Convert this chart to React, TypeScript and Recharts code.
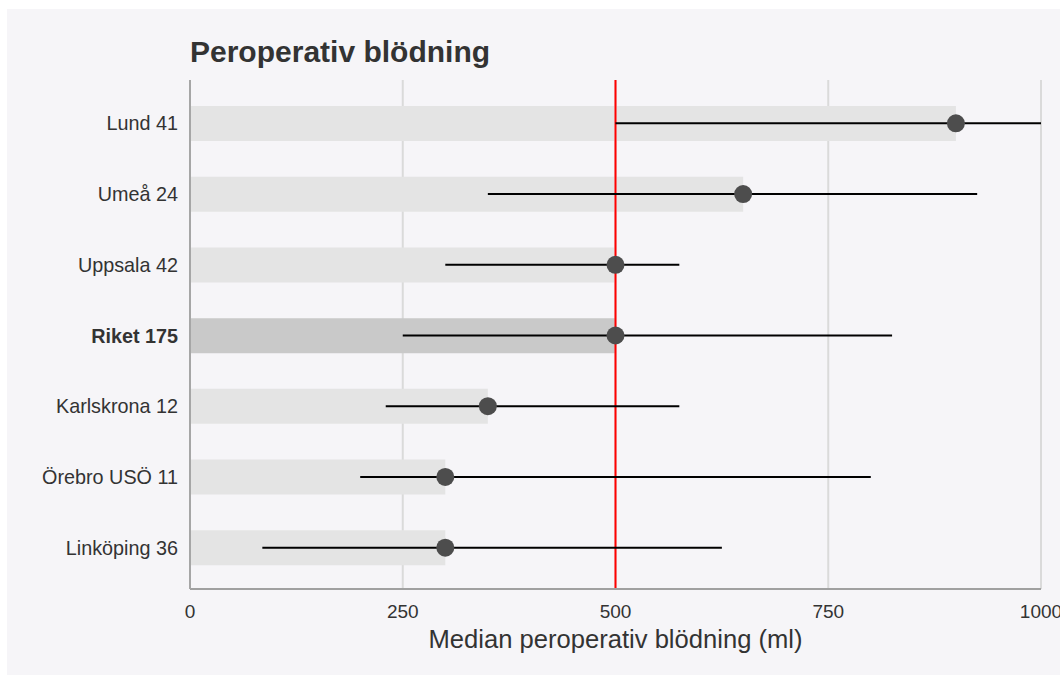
import { Bar, CartesianGrid, Cell, ComposedChart, ErrorBar, Line, ReferenceLine, XAxis, YAxis } from 'recharts';

// Units with number of operated patients, top to bottom
const units = ['Lund 41', 'Umeå 24', 'Uppsala 42', 'Riket 175', 'Karlskrona 12', 'Örebro USÖ 11', 'Linköping 36'];
const medians = [900, 650, 500, 500, 350, 300, 300];
const lower = [500, 350, 300, 250, 230, 200, 85];
const upper = [1000, 925, 575, 825, 575, 800, 625];
const xTicks = [0, 250, 500, 750, 1000];
const nationalMedian = 500;

const FONT = '"Liberation Sans", Arial, sans-serif';

const rows = units.map((name, i) => ({
  name,
  median: medians[i],
  spread: [medians[i] - lower[i], upper[i] - medians[i]],
  national: name.startsWith('Riket'),
}));

function UnitTick({ x, y, payload }: any) {
  const bold = String(payload.value).startsWith('Riket');
  return (
    <text
      x={x}
      y={y}
      dy="0.36em"
      textAnchor="end"
      fill="#333"
      fontSize={19.8}
      fontFamily={FONT}
      fontWeight={bold ? 700 : 400}
    >
      {payload.value}
    </text>
  );
}

export default function App() {
  return (
    <div
      style={{
        position: 'absolute',
        left: 0,
        top: 0,
        width: 1060,
        height: 677,
        background: '#ffffff',
        overflow: 'hidden',
        fontFamily: FONT,
      }}
    >
      <div
        style={{
          position: 'absolute',
          left: 7,
          top: 9,
          width: 1100,
          height: 666,
          background: '#f6f5f8',
        }}
      >
        <div
          style={{
            position: 'absolute',
            left: 183,
            top: 28,
            fontSize: 30,
            lineHeight: '30px',
            fontWeight: 700,
            color: '#333',
            whiteSpace: 'nowrap',
          }}
        >
          Peroperativ blödning
        </div>
        <ComposedChart
          width={1100}
          height={666}
          data={rows}
          layout="vertical"
          margin={{ top: 71, right: 66, bottom: 0, left: 0 }}
          barCategoryGap="50%"
        >
          <CartesianGrid horizontal={false} stroke="#dadada" strokeWidth={2} />
          <XAxis
            type="number"
            domain={[0, 1000]}
            ticks={xTicks}
            allowDataOverflow
            height={86}
            tickLine={false}
            tickMargin={10}
            stroke="#a0a0a0"
            strokeWidth={2}
            tick={{ fill: '#333', fontSize: 19, fontFamily: FONT }}
            label={{
              value: 'Median peroperativ blödning (ml)',
              position: 'insideBottom',
              offset: 27,
              fill: '#333',
              fontSize: 25.6,
              fontFamily: FONT,
            }}
          />
          <YAxis
            type="category"
            dataKey="name"
            width={183}
            padding={{ top: 8, bottom: 6 }}
            tickLine={false}
            tickMargin={6}
            stroke="#a6a6a6"
            strokeWidth={2}
            tick={<UnitTick />}
            interval={0}
          />
          <Bar dataKey="median" barSize={35} isAnimationActive={false}>
            {rows.map((r, i) => (
              <Cell key={`cell-${i}`} fill={r.national ? '#c9c9c9' : '#e4e4e4'} />
            ))}
          </Bar>
          <ReferenceLine x={nationalMedian} stroke="#ff0000" strokeWidth={2} />
          <Line
            dataKey="median"
            stroke="none"
            isAnimationActive={false}
            dot={{ r: 9, fill: '#4d4d4d', stroke: 'none' }}
            activeDot={false}
          >
            <ErrorBar dataKey="spread" direction="x" width={0} stroke="#000" strokeWidth={2} />
          </Line>
        </ComposedChart>
      </div>
    </div>
  );
}
